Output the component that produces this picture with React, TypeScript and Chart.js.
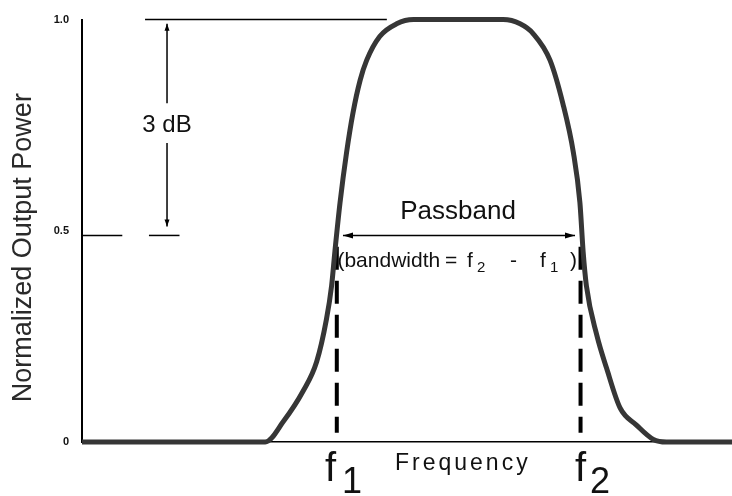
import React, { useEffect, useRef } from "react";
import { Chart, registerables } from "chart.js";

Chart.register(...registerables);

const FONT = '"Liberation Sans", Arial, Helvetica, sans-serif';

// Filter response curve (frequency in arbitrary units 0..100, normalized power)
const frequency = [0, 28.2, 31.0, 34.0, 36.1, 37.6, 38.4, 38.9, 39.7, 40.7, 41.7, 42.8, 43.8, 45.8, 48.4, 51.0, 64.8, 67.4, 69.4, 72.0, 74.0, 75.6, 76.6, 77.1, 77.6, 79.2, 80.7, 82.8, 85.3, 87.9, 89.9, 100];
const power = [0, 0, 0.049, 0.12, 0.19, 0.29, 0.37, 0.45, 0.567, 0.685, 0.78, 0.857, 0.904, 0.96, 0.99, 1.0, 1.0, 0.99, 0.967, 0.904, 0.8, 0.685, 0.567, 0.45, 0.37, 0.253, 0.175, 0.08, 0.04, 0.006, 0, 0];

const yTickValues = [0, 0.5, 1.0];
const yTickLabels = ["0", "0.5", "1.0"];
const yAxisTitle = "Normalized Output Power";
const xAxisTitle = "Frequency";

// Annotation anchors (data units)
const f1 = 39.2;
const f2 = 76.7;
const halfLevel = 0.489;
const dashTop = 0.462;
const dashBottom = 0.022;
const topRefLine = [9.7, 46.9];
const halfMarks = [[0, 6.2], [10.3, 15.0]];
const dbArrowX = 13.08;
const dbArrowUpper = [0.99, 0.802];
const dbArrowLower = [0.708, 0.51];
const dbLabel = "3 dB";
const dbLabelLevel = 0.75;
const passbandLabel = "Passband";
const passbandArrow = [40.15, 75.85];
const passbandLabelPos = [57.85, 0.527];
const bandwidthLevel = 0.414;
const bandwidthPieces = [
  { t: "(bandwidth", u: 39.3, sub: false },
  { t: "=", u: 55.85, sub: false },
  { t: "f", u: 59.23, sub: false },
  { t: "2", u: 60.77, sub: true },
  { t: "-", u: 65.85, sub: false },
  { t: "f", u: 70.46, sub: false },
  { t: "1", u: 72.0, sub: true },
  { t: ")", u: 75.08, sub: false },
];
const fLabels = [
  { f: 37.4, sub: "1", s: 40.0 },
  { f: 75.85, sub: "2", s: 78.15 },
];
const fLabelLevel = -0.092;
const fSubLevel = -0.12;
const xTitlePos = [48.15, -0.066];

function arrowHead(ctx: CanvasRenderingContext2D, x: number, y: number, dx: number, dy: number, len = 9, half = 3) {
  const px = -dy, py = dx;
  ctx.beginPath();
  ctx.moveTo(x, y);
  ctx.lineTo(x - dx * len + px * half, y - dy * len + py * half);
  ctx.lineTo(x - dx * len - px * half, y - dy * len - py * half);
  ctx.closePath();
  ctx.fill();
}

function seg(ctx: CanvasRenderingContext2D, x1: number, y1: number, x2: number, y2: number) {
  ctx.beginPath();
  ctx.moveTo(x1, y1);
  ctx.lineTo(x2, y2);
  ctx.stroke();
}

const dashPlugin = {
  id: "dashLines",
  beforeDatasetsDraw(chart: any) {
    const ctx = chart.ctx as CanvasRenderingContext2D;
    const X = (v: number) => chart.scales.x.getPixelForValue(v);
    const Y = (v: number) => chart.scales.y.getPixelForValue(v);
    ctx.save();
    ctx.strokeStyle = "#000";
    ctx.lineWidth = 4;
    ctx.setLineDash([23, 11]);
    for (const f of [f1, f2]) seg(ctx, X(f), Y(dashTop), X(f), Y(dashBottom));
    ctx.restore();
  },
};

const annotationPlugin = {
  id: "filterAnnotations",
  afterDatasetsDraw(chart: any) {
    const ctx = chart.ctx as CanvasRenderingContext2D;
    const X = (v: number) => chart.scales.x.getPixelForValue(v);
    const Y = (v: number) => chart.scales.y.getPixelForValue(v);
    const area = chart.chartArea;
    ctx.save();
    ctx.strokeStyle = "#000";
    ctx.fillStyle = "#000";
    ctx.lineWidth = 1.5;

    // 1.0 reference line
    seg(ctx, X(topRefLine[0]), Y(1), X(topRefLine[1]), Y(1));
    // half-power marks
    for (const [a, b] of halfMarks) seg(ctx, X(a), Y(halfLevel), X(b), Y(halfLevel));
    // 3 dB arrow
    ctx.lineWidth = 1.5;
    seg(ctx, X(dbArrowX), Y(dbArrowUpper[0]), X(dbArrowX), Y(dbArrowUpper[1]));
    arrowHead(ctx, X(dbArrowX), Y(dbArrowUpper[0]), 0, -1, 7, 2.5);
    seg(ctx, X(dbArrowX), Y(dbArrowLower[0]), X(dbArrowX), Y(dbArrowLower[1]));
    arrowHead(ctx, X(dbArrowX), Y(dbArrowLower[1]), 0, 1, 7, 2.5);
    ctx.font = `24px ${FONT}`;
    ctx.textAlign = "center";
    ctx.textBaseline = "middle";
    ctx.fillStyle = "#111";
    ctx.fillText(dbLabel, X(dbArrowX), Y(dbLabelLevel));

    // Passband arrow
    ctx.fillStyle = "#000";
    seg(ctx, X(passbandArrow[0]), Y(halfLevel), X(passbandArrow[1]), Y(halfLevel));
    arrowHead(ctx, X(passbandArrow[0]), Y(halfLevel), -1, 0, 10, 3);
    arrowHead(ctx, X(passbandArrow[1]), Y(halfLevel), 1, 0, 10, 3);
    ctx.fillStyle = "#111";
    ctx.textBaseline = "alphabetic";
    ctx.font = `26px ${FONT}`;
    ctx.fillText(passbandLabel, X(passbandLabelPos[0]), Y(passbandLabelPos[1]));

    // bandwidth text
    ctx.textAlign = "left";
    for (const p of bandwidthPieces) {
      ctx.font = p.sub ? `15px ${FONT}` : `21px ${FONT}`;
      ctx.fillText(p.t, X(p.u), Y(bandwidthLevel) + (p.sub ? 5 : 0));
    }

    // x-axis labels f1, f2
    for (const l of fLabels) {
      ctx.font = `40px ${FONT}`;
      ctx.fillText("f", X(l.f), Y(fLabelLevel));
      ctx.font = `36px ${FONT}`;
      ctx.fillText(l.sub, X(l.s), Y(fSubLevel));
    }
    // Frequency title
    ctx.font = `23px ${FONT}`;
    (ctx as any).letterSpacing = "3px";
    ctx.fillText(xAxisTitle, X(xTitlePos[0]), Y(xTitlePos[1]));
    (ctx as any).letterSpacing = "0px";

    // Y-axis title
    ctx.save();
    ctx.translate(area.left - 58, Y(0.46));
    ctx.rotate(-Math.PI / 2);
    ctx.textAlign = "center";
    ctx.textBaseline = "middle";
    ctx.font = `27px ${FONT}`;
    ctx.fillStyle = "#2a2a2a";
    ctx.fillText(yAxisTitle, 0, 0);
    ctx.restore();

    ctx.restore();
  },
};

export default function App() {
  const canvasRef = useRef<HTMLCanvasElement | null>(null);

  useEffect(() => {
    if (!canvasRef.current) return;
    const chart = new Chart(canvasRef.current, {
      type: "line",
      data: {
        datasets: [
          {
            data: frequency.map((f, i) => ({ x: f, y: power[i] })),
            borderColor: "#363636",
            borderWidth: 5,
            pointRadius: 0,
            fill: false,
            cubicInterpolationMode: "monotone",
            clip: false,
          } as any,
        ],
      },
      options: {
        responsive: true,
        maintainAspectRatio: false,
        animation: false,
        layout: { padding: { top: 16, right: 0, left: 0, bottom: 0 } },
        plugins: { legend: { display: false }, tooltip: { enabled: false } },
        scales: {
          x: {
            type: "linear",
            min: 0,
            max: 100,
            grid: { display: false, drawTicks: false },
            border: { display: true, color: "#000", width: 1.5 },
            ticks: { display: false },
            afterFit: (s: any) => { s.height = 54; },
          },
          y: {
            type: "linear",
            min: 0,
            max: 1,
            grid: { display: false, drawTicks: false },
            border: { display: true, color: "#000", width: 2 },
            afterBuildTicks: (s: any) => { s.ticks = yTickValues.map((v) => ({ value: v })); },
            ticks: {
              padding: 13,
              color: "#111",
              font: { family: FONT, size: 11, weight: "bold" },
              callback: (v: any) => {
                const i = yTickValues.indexOf(Number(v));
                return i >= 0 ? yTickLabels[i] : "";
              },
            },
            afterFit: (s: any) => { s.width = 82; },
          },
        },
      },
      plugins: [dashPlugin, annotationPlugin],
    } as any);
    return () => chart.destroy();
  }, []);

  return (
    <div style={{ position: "absolute", left: 0, top: 0, width: 732, height: 496, background: "#fff" }}>
      <canvas ref={canvasRef} />
    </div>
  );
}
